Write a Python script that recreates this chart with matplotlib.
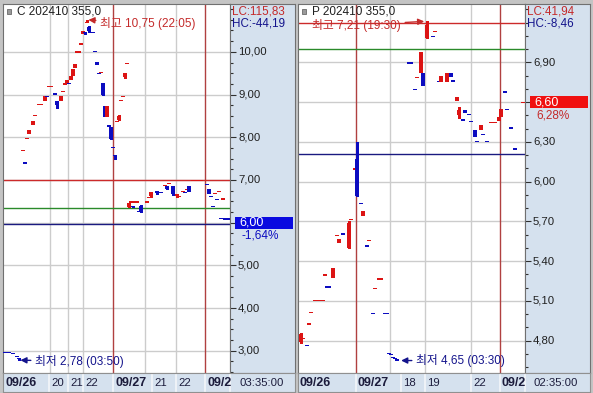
import matplotlib
matplotlib.use('Agg')
import matplotlib.pyplot as plt
from matplotlib.patches import Rectangle
import numpy as np

plt.rcParams['font.family'] = ['Liberation Sans', 'Noto Sans CJK KR', 'DejaVu Sans']

W, H = 593, 393

# ---- left chart: C 202410 355,0 ----
left_t = [1, 3, 5, 7, 8, 10, 11, 12, 13, 15, 16, 18, 19, 21, 22, 23, 24, 26, 27, 29,
          30, 31, 32, 33, 34, 35, 36, 37, 38, 39, 40, 41, 42, 43, 45, 46, 47, 48, 49, 50,
          51, 52, 53, 54, 55, 56, 57, 58, 59, 60, 61, 62, 63, 64, 65, 66, 67, 68, 69, 72,
          73, 74, 77, 79, 81, 82, 83, 85, 87, 88, 90, 91, 92, 93, 95, 96, 97, 98, 99, 102,
          103, 104, 105, 106, 107, 108, 109, 110, 111, 113]
left_open = [2.97, 2.97, 2.94, 2.88, 2.84, 7.68, 7.40, 7.97, 8.07, 8.28, 8.51, 8.77, 8.77, 8.85, 8.96, 9.19, 9.19, 9.02, 8.84, 8.85,
             9.07, 9.24, 9.28, 9.26, 9.34, 9.44, 9.63, 9.99, 9.99, 10.18, 10.42, 10.46, 10.69, 10.59, 10.46, 10.01, 9.76, 9.49, 9.52, 9.26,
             8.73, 8.47, 8.27, 8.23, 7.77, 7.58, 8.37, 8.40, 8.86, 8.95, 9.40, 9.73, 6.37, 6.48, 6.40, 6.48, 6.48, 6.27, 6.40, 6.48,
             6.58, 6.62, 6.75, 6.71, 6.86, 6.85, 6.91, 6.85, 6.62, 6.60, 6.72, 6.71, 6.77, 6.86, 6.98, 6.99, 6.99, 6.99, 6.99, 6.90,
             6.80, 6.62, 6.39, 6.67, 6.55, 6.72, 6.10, 6.55, 6.09, 6.09]
left_high = [2.97, 2.97, 2.94, 2.88, 2.84, 7.69, 7.40, 7.98, 8.16, 8.38, 8.52, 8.78, 8.78, 8.96, 8.96, 9.20, 9.20, 9.02, 8.84, 8.96,
             9.08, 9.25, 9.34, 9.26, 9.44, 9.60, 9.72, 10.00, 10.00, 10.19, 10.49, 10.46, 10.75, 10.60, 10.46, 10.01, 9.76, 9.49, 9.53, 9.27,
             8.73, 8.73, 8.27, 8.24, 7.77, 7.58, 8.38, 8.52, 8.87, 8.96, 9.50, 9.74, 6.45, 6.49, 6.40, 6.49, 6.49, 6.27, 6.42, 6.49,
             6.59, 6.71, 6.75, 6.71, 6.87, 6.85, 6.92, 6.85, 6.68, 6.61, 6.73, 6.71, 6.78, 6.86, 6.99, 7.00, 7.00, 7.00, 7.00, 6.90,
             6.80, 6.62, 6.39, 6.68, 6.55, 6.73, 6.10, 6.56, 6.09, 6.09]
left_low = [2.96, 2.96, 2.93, 2.87, 2.78, 7.68, 7.39, 7.97, 8.07, 8.28, 8.51, 8.77, 8.77, 8.85, 8.95, 9.19, 9.19, 9.01, 8.68, 8.85,
            9.07, 9.24, 9.28, 9.25, 9.34, 9.44, 9.63, 9.99, 9.99, 10.18, 10.42, 10.42, 10.69, 10.47, 10.45, 10.00, 9.69, 9.48, 9.52, 8.99,
            8.47, 8.47, 8.26, 7.95, 7.76, 7.48, 8.37, 8.40, 8.86, 8.95, 9.39, 9.73, 6.36, 6.48, 6.36, 6.48, 6.48, 6.26, 6.24, 6.48,
            6.58, 6.61, 6.68, 6.70, 6.86, 6.78, 6.91, 6.64, 6.61, 6.60, 6.72, 6.70, 6.77, 6.71, 6.98, 6.99, 6.99, 6.99, 6.99, 6.89,
            6.68, 6.61, 6.38, 6.67, 6.54, 6.72, 6.09, 6.55, 6.08, 6.08]
left_close = [2.96, 2.96, 2.93, 2.87, 2.80, 7.69, 7.39, 7.98, 8.16, 8.38, 8.52, 8.78, 8.78, 8.96, 8.95, 9.20, 9.20, 9.01, 8.75, 8.96,
              9.08, 9.25, 9.34, 9.25, 9.44, 9.60, 9.72, 10.00, 10.00, 10.19, 10.49, 10.43, 10.70, 10.49, 10.45, 10.00, 9.69, 9.48, 9.53, 9.00,
              8.47, 8.73, 8.26, 7.95, 7.76, 7.56, 8.38, 8.50, 8.87, 8.96, 9.50, 9.74, 6.45, 6.49, 6.37, 6.49, 6.49, 6.26, 6.26, 6.49,
              6.59, 6.71, 6.69, 6.70, 6.87, 6.79, 6.92, 6.66, 6.68, 6.61, 6.73, 6.70, 6.78, 6.71, 6.99, 7.00, 7.00, 7.00, 7.00, 6.89,
              6.68, 6.61, 6.38, 6.68, 6.54, 6.73, 6.09, 6.56, 6.08, 6.08]
left_levels = [7.00, 6.35, 5.97]          # red / green / blue lines
left_last, left_pct = 6.00, '-1,64%'
left_grid = [23.5, 32.5, 40, 71, 86.5]
left_day_lines = [55, 101]
left_sep = [23, 32.5, 40, 55, 74.5, 86.5, 101]
left_dates = ['09/26', '20', '21', '22', '09/27', '21', '22', '09/2']
left_bold = [True, False, False, False, True, False, False, True]

# ---- right chart: P 202410 355,0 ----
right_t = [1, 2, 4, 5, 6, 8, 9, 10, 11, 12, 13, 14, 15, 17, 19, 20, 22, 25, 26, 28,
           29, 31, 32, 34, 35, 37, 38, 40, 41, 43, 44, 45, 46, 47, 48, 49, 55, 56, 58, 59,
           61, 62, 64, 67, 68, 70, 71, 74, 76, 77, 79, 80, 82, 83, 85, 86, 88, 89, 91, 92,
           94, 96, 97, 98, 100, 101, 103, 104, 106, 108, 112]
right_open = [4.79, 4.81, 4.77, 4.92, 5.01, 5.10, 5.10, 5.10, 5.10, 5.10, 5.29, 5.21, 5.21, 5.27, 5.59, 5.54, 5.61, 5.50, 5.71, 6.09,
              6.17, 5.84, 5.74, 5.52, 5.55, 5.01, 5.19, 5.26, 5.26, 5.01, 5.01, 4.71, 4.70, 4.68, 4.67, 4.66, 6.90, 6.90, 6.70, 6.78,
              6.82, 6.82, 7.08, 7.10, 7.13, 6.76, 6.75, 6.75, 6.82, 6.77, 6.61, 6.50, 6.47, 6.54, 6.51, 6.46, 6.39, 6.31, 6.39, 6.36,
              6.31, 6.44, 6.44, 6.44, 6.46, 6.49, 6.68, 6.55, 6.41, 6.25, 6.59]
right_high = [4.86, 4.82, 4.77, 4.93, 5.02, 5.11, 5.11, 5.11, 5.11, 5.11, 5.30, 5.21, 5.21, 5.35, 5.60, 5.57, 5.61, 5.70, 5.72, 6.10,
              6.30, 5.84, 5.78, 5.52, 5.56, 5.01, 5.20, 5.27, 5.27, 5.01, 5.01, 4.71, 4.70, 4.68, 4.67, 4.66, 6.90, 6.90, 6.70, 6.79,
              6.98, 6.82, 7.21, 7.10, 7.14, 6.76, 6.80, 6.82, 6.82, 6.77, 6.64, 6.56, 6.47, 6.54, 6.51, 6.46, 6.39, 6.31, 6.43, 6.36,
              6.31, 6.45, 6.45, 6.45, 6.49, 6.55, 6.68, 6.55, 6.41, 6.25, 6.60]
right_low = [4.78, 4.81, 4.76, 4.92, 5.01, 5.10, 5.10, 5.10, 5.10, 5.10, 5.29, 5.20, 5.20, 5.27, 5.59, 5.54, 5.60, 5.50, 5.71, 6.09,
             5.89, 5.83, 5.74, 5.51, 5.55, 5.00, 5.19, 5.26, 5.26, 5.00, 5.00, 4.70, 4.69, 4.67, 4.66, 4.65, 6.89, 6.89, 6.69, 6.78,
             6.82, 6.72, 7.08, 7.09, 7.13, 6.75, 6.75, 6.75, 6.79, 6.75, 6.61, 6.48, 6.46, 6.52, 6.50, 6.45, 6.34, 6.30, 6.39, 6.35,
             6.30, 6.44, 6.44, 6.44, 6.46, 6.49, 6.67, 6.54, 6.40, 6.24, 6.59]
right_close = [4.85, 4.82, 4.76, 4.93, 5.02, 5.11, 5.11, 5.11, 5.11, 5.11, 5.30, 5.20, 5.20, 5.35, 5.60, 5.57, 5.60, 5.69, 5.72, 6.10,
               5.89, 5.83, 5.78, 5.51, 5.56, 5.00, 5.20, 5.27, 5.27, 5.00, 5.00, 4.70, 4.69, 4.67, 4.66, 4.65, 6.89, 6.89, 6.69, 6.79,
               6.98, 6.72, 7.18, 7.09, 7.14, 6.75, 6.80, 6.82, 6.79, 6.75, 6.64, 6.54, 6.46, 6.52, 6.50, 6.45, 6.34, 6.30, 6.43, 6.35,
               6.30, 6.45, 6.45, 6.45, 6.49, 6.55, 6.67, 6.54, 6.40, 6.24, 6.60]
right_levels = [7.20, 7.00, 6.21]
right_last, right_pct = 6.60, '6,28%'
right_grid = [45.5, 63, 86]
right_day_lines = [28.5, 100.5]
right_sep = [28.5, 51, 63, 86, 100.5]
right_dates = ['09/26', '09/27', '18', '19', '22', '09/2']
right_bold = [True, True, False, False, False, True]

RED = '#dc1414'
BLUE = '#0c0cc0'
NAVY = '#14148c'
TXT_RED = '#c42a2a'
PANEL = '#d5e1ee'
GRID = '#cccccc'
DAYLINE = '#b04040'
LEVEL_COLORS = ['#cc2a2a', '#2a8a2a', '#1a1a80']

fig = plt.figure(figsize=(W / 100, H / 100), dpi=100, facecolor='#c4c4c4')


def px_axes(x0, y0, x1, y1):
    return fig.add_axes([x0 / W, 1 - y1 / H, (x1 - x0) / W, (y1 - y0) / H])


def fig_text(x, y, s, **kw):
    fig.text(x / W, 1 - y / H, s, va='center', **kw)


def draw_candles(ax, t, o, h, l, c, minh):
    for ti, oi, hi, li, ci in zip(t, o, h, l, c):
        col = RED if ci >= oi else BLUE
        b0, b1 = min(oi, ci), max(oi, ci)
        if b1 - b0 < minh:
            mid = (b0 + b1) / 2
            b0, b1 = mid - minh / 2, mid + minh / 2
        if hi > b1 or li < b0:
            ax.vlines(ti, li, hi, color=col, lw=1, zorder=3, antialiased=False)
        ax.add_patch(Rectangle((ti - 0.8, b0), 1.6, b1 - b0, facecolor=col,
                               edgecolor='none', zorder=3, antialiased=False))


def fmt(v):
    return f'{v:.2f}'.replace('.', ',')


def panel(x0, t, o, h, l, c, xlim, ylim, major, minor, grid, day_lines, levels,
          sep, dates, bold, clock, last):
    px_per = (ylim[1] - ylim[0]) / (373 - 4)
    ax = px_axes(x0, 4, x0 + 227, 373)
    ax.set_xlim(xlim)
    ax.set_ylim(ylim)
    ax.set_xticks([])
    ax.set_yticks([])
    for s in ax.spines.values():
        s.set_color('#707070')
    ax.hlines(major, *xlim, color=GRID, lw=1, zorder=0)
    ax.vlines(grid, *ylim, color=GRID, lw=1, zorder=0)
    ax.vlines(day_lines, *ylim, color=DAYLINE, lw=1, zorder=1)
    for lv, col in zip(levels, LEVEL_COLORS):
        ax.axhline(lv, color=col, lw=1, zorder=1)
    draw_candles(ax, t, o, h, l, c, px_per * 1.2)

    # y-axis panel
    axp = px_axes(x0 + 227, 4, x0 + 292, 373)
    axp.set_facecolor(PANEL)
    axp.set_ylim(ylim)
    axp.set_xticks([])
    axp.set_yticks(major)
    axp.set_yticks(minor, minor=True)
    axp.tick_params(axis='y', which='major', direction='in', length=4, width=0.8,
                    color='#303030', labelleft=False)
    axp.tick_params(axis='y', which='minor', direction='in', length=2, width=0.8,
                    color='#303030')
    for s in axp.spines.values():
        s.set_color('#707070')
    for v in major:
        if abs(v - last) < 0.05:
            continue  # hidden behind the current-price box
        axp.text(8 / 65, v, fmt(v), transform=axp.get_yaxis_transform(),
                 va='center', ha='left', fontsize=8.2, color='#202020', zorder=2)

    # date bar
    axd = px_axes(x0, 373, x0 + 292, 392)
    axd.set_facecolor(PANEL)
    axd.set_xlim(xlim[0], xlim[0] + 146)
    axd.set_ylim(0, 1)
    axd.set_xticks([])
    axd.set_yticks([])
    for s in axd.spines.values():
        s.set_color('#909090')
    axd.vlines(sep + [xlim[1]], 0, 1, color='#f4f6fa', lw=1.2)
    starts = [xlim[0]] + sep
    for xs, lab, b in zip(starts, dates, bold):
        axd.text(xs + 1, 0.45, lab, va='center', ha='left', clip_on=True,
                 fontsize=9 if b else 8.2, fontweight='bold' if b else 'normal',
                 color='#1c1c3c')
    axd.text(xlim[1] + 4.5, 0.45, clock, va='center', ha='left', fontsize=8.2,
             color='#1c1c3c')
    return ax, axp


left_ylim = (2.48, 11.12)
right_ylim = (4.556, 7.34)
axL, axLp = panel(3, left_t, left_open, left_high, left_low, left_close,
                  (0, 113.5), left_ylim, np.arange(3, 10.5, 1.0),
                  np.arange(2.5, 11.1, 0.25), left_grid, left_day_lines, left_levels,
                  left_sep, left_dates, left_bold, '03:35:00', left_last)
axR, axRp = panel(298, right_t, right_open, right_high, right_low, right_close,
                  (-0.5, 113), right_ylim, np.arange(4.8, 6.95, 0.3),
                  np.arange(4.6, 7.35, 0.1), right_grid, right_day_lines, right_levels,
                  right_sep, right_dates, right_bold, '02:35:00', right_last)

# titles
for x0, name in [(3, 'C 202410 355,0'), (298, 'P 202410 355,0')]:
    fig.add_artist(Rectangle(((x0 + 4) / W, 1 - 14 / H), 4 / W, 5 / H,
                             transform=fig.transFigure, facecolor='#9a9a9a',
                             edgecolor='#6a6a6a', lw=0.6))
    fig_text(x0 + 14, 12, name, fontsize=8.5, color='#202020')

# LC / HC
fig_text(232, 12, 'LC:115,83', fontsize=8.4, color=TXT_RED)
fig_text(232, 23, 'HC:-44,19', fontsize=8.4, color=NAVY)
fig_text(527, 12, 'LC:41,94', fontsize=8.4, color=TXT_RED)
fig_text(527, 23, 'HC:-8,46', fontsize=8.4, color=NAVY)

arrow_kw = dict(arrowstyle='-|>', lw=1, mutation_scale=9, shrinkA=1)

# high / low markers
i = int(np.argmax(left_high))
axL.annotate('최고 10,75 (22:05)', xy=(left_t[i], left_high[i]), xytext=(13, -4),
             textcoords='offset pixels', va='center', ha='left', fontsize=8.5,
             color=TXT_RED, zorder=5,
             arrowprops=dict(color=TXT_RED, shrinkB=1, **arrow_kw))
i = int(np.argmin(left_low))
axL.annotate('최저 2,78 (03:50)', xy=(left_t[i], left_low[i]), xytext=(16, -1),
             textcoords='offset pixels', va='center', ha='left', fontsize=8.5,
             color=NAVY, zorder=5,
             arrowprops=dict(color=NAVY, shrinkB=1, **arrow_kw))
i = int(np.argmax(right_high))
axR.annotate('최고 7,21 (19:30)', xy=(right_t[i], right_high[i]), xytext=(-26, -4),
             textcoords='offset pixels', va='center', ha='right', fontsize=8.5,
             color=TXT_RED, zorder=5,
             arrowprops=dict(color=TXT_RED, shrinkB=2, **arrow_kw))
i = int(np.argmin(right_low))
axR.annotate('최저 4,65 (03:30)', xy=(right_t[i], right_low[i]), xytext=(19, 0),
             textcoords='offset pixels', va='center', ha='left', fontsize=8.5,
             color=NAVY, zorder=5,
             arrowprops=dict(color=NAVY, shrinkB=3, **arrow_kw))

# current price boxes
for axp, last, pct, box_col, pct_col, ylim in [
        (axLp, left_last, left_pct, '#0a0ae0', BLUE, left_ylim),
        (axRp, right_last, right_pct, '#f01010', TXT_RED, right_ylim)]:
    per_px = (ylim[1] - ylim[0]) / 369
    axp.add_patch(Rectangle((5 / 65, last - 6 * per_px), 58 / 65, 12 * per_px,
                            transform=axp.get_yaxis_transform(), facecolor=box_col,
                            edgecolor='none', zorder=5))
    axp.text(9 / 65, last, fmt(last), transform=axp.get_yaxis_transform(),
             va='center', ha='left', fontsize=9, color='white', zorder=6)
    axp.text(11 / 65, last - 13 * per_px, pct, transform=axp.get_yaxis_transform(),
             va='center', ha='left', fontsize=8.5, color=pct_col, zorder=6)

fig.savefig('out.png', dpi=100, facecolor=fig.get_facecolor())
